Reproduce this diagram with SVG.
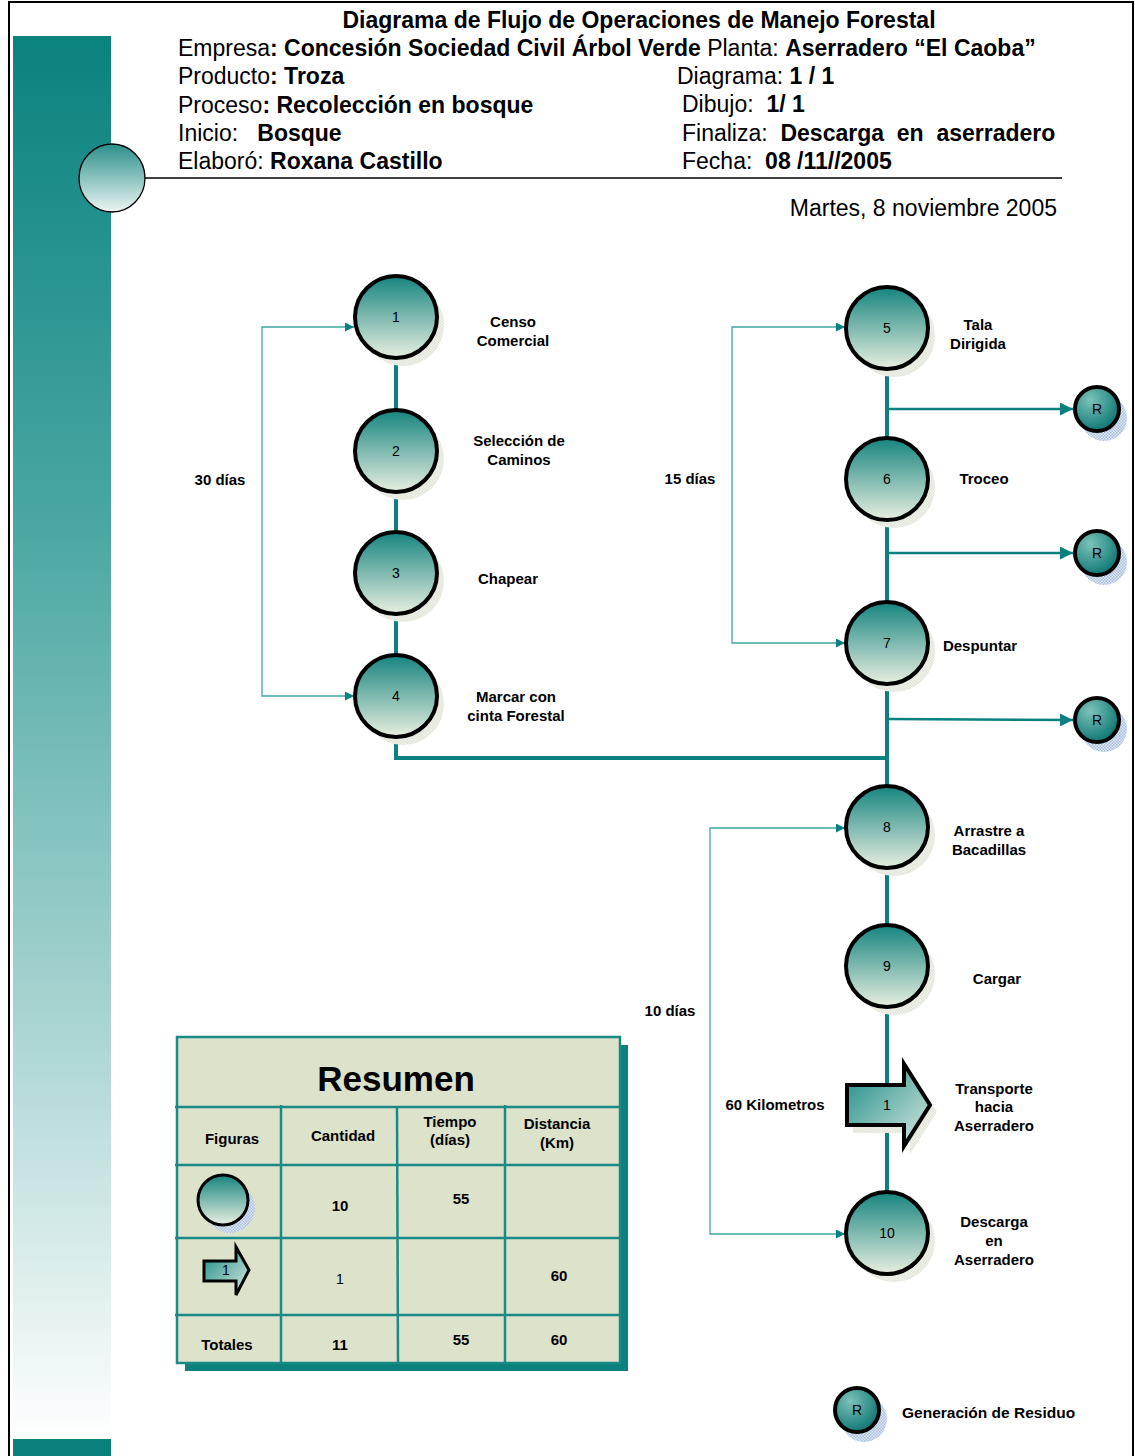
<svg xmlns="http://www.w3.org/2000/svg" width="1135" height="1456" viewBox="0 0 1135 1456">
<style>
text{font-family:"Liberation Sans",Arial,sans-serif;fill:#000}
.h{font-size:23px}
.b{font-weight:bold}
.lbl{font-size:15px;font-weight:bold;text-anchor:middle}
.num{font-size:14px;text-anchor:middle}
.node{stroke:#000;stroke-width:4;fill:url(#gNode)}
.rnode{stroke:#000;stroke-width:4;fill:url(#gR)}
.sh{fill:url(#chk)}
.shr{fill:url(#chkB)}
.thick{stroke:#0a8080;stroke-width:4;fill:none}
.rl{stroke:#0a8080;stroke-width:2.5;fill:none}
.thin{stroke:#3fa6a3;stroke-width:1.3;fill:none}
.tl{stroke:#1a8a86;stroke-width:2.5}
.tc{font-size:15px;font-weight:bold;text-anchor:middle}
</style>
<defs>
<linearGradient id="gNode" x1="0" y1="0" x2="0" y2="1">
<stop offset="0" stop-color="#15847f"/>
<stop offset="1" stop-color="#e8efe0"/>
</linearGradient>
<radialGradient id="gR" cx="0.35" cy="0.3" r="0.75">
<stop offset="0" stop-color="#7cc2bb"/>
<stop offset="1" stop-color="#0a7470"/>
</radialGradient>
<linearGradient id="gArrow" x1="0" y1="0" x2="1" y2="1">
<stop offset="0" stop-color="#1b8a85"/>
<stop offset="1" stop-color="#d9ebe2"/>
</linearGradient>
<linearGradient id="gBar" x1="0" y1="0" x2="0" y2="1">
<stop offset="0" stop-color="#0a827e"/>
<stop offset="0.35" stop-color="#4ba7a3"/>
<stop offset="0.7" stop-color="#a8d4d1"/>
<stop offset="1" stop-color="#ffffff"/>
</linearGradient>
<linearGradient id="gHead" x1="0" y1="0" x2="0" y2="1">
<stop offset="0" stop-color="#2a908b"/>
<stop offset="1" stop-color="#eef5f3"/>
</linearGradient>
<pattern id="chk" width="3" height="3" patternUnits="userSpaceOnUse">
<rect width="3" height="3" fill="#f1f3ec"/>
<rect width="1.5" height="1.5" fill="#dfe4d6"/>
<rect x="1.5" y="1.5" width="1.5" height="1.5" fill="#dfe4d6"/>
</pattern>
<pattern id="chkB" width="3" height="3" patternUnits="userSpaceOnUse">
<rect width="3" height="3" fill="#dfe7f3"/>
<rect width="1.5" height="1.5" fill="#a9bfe0"/>
<rect x="1.5" y="1.5" width="1.5" height="1.5" fill="#a9bfe0"/>
</pattern>
<marker id="aThin" viewBox="0 0 10 10" refX="10" refY="5" markerWidth="9" markerHeight="9" markerUnits="userSpaceOnUse" orient="auto-start-reverse">
<path d="M0,0 L10,5 L0,10 z" fill="#0a8080"/>
</marker>
<marker id="aR" viewBox="0 0 10 10" refX="10" refY="5" markerWidth="13" markerHeight="13" markerUnits="userSpaceOnUse" orient="auto">
<path d="M0,0 L10,5 L0,10 z" fill="#0a8080"/>
</marker>
</defs>

<rect x="0" y="0" width="1135" height="1456" fill="#fff"/>
<path d="M9,1456 V2 H1133 V1456" fill="none" stroke="#000" stroke-width="2"/>

<g id="sidebar">
<rect x="13" y="36" width="98" height="1403" fill="url(#gBar)"/>
<rect x="13" y="1439" width="98" height="17" fill="#0a817d"/>
</g>

<g id="header">
<ellipse cx="112" cy="178" rx="33" ry="34" fill="url(#gHead)" stroke="#000" stroke-width="1.3"/>
<line x1="145" y1="178" x2="1062" y2="178" stroke="#000" stroke-width="1.3"/>
<text x="639" y="28" class="h b" text-anchor="middle">Diagrama de Flujo de Operaciones de Manejo Forestal</text>
<text x="178" y="56" class="h">Empresa<tspan class="b">: Concesión Sociedad Civil Árbol Verde</tspan> Planta: <tspan class="b">Aserradero “El Caoba”</tspan></text>
<text x="178" y="84" class="h">Producto<tspan class="b">: Troza</tspan></text>
<text x="178" y="113" class="h">Proceso<tspan class="b">: Recolección en bosque</tspan></text>
<text x="178" y="141" class="h" xml:space="preserve">Inicio:   <tspan class="b">Bosque</tspan></text>
<text x="178" y="169" class="h">Elaboró: <tspan class="b">Roxana Castillo</tspan></text>
<text x="677" y="84" class="h">Diagrama: <tspan class="b">1 / 1</tspan></text>
<text x="682" y="112" class="h" xml:space="preserve">Dibujo:  <tspan class="b">1/ 1</tspan></text>
<text x="682" y="141" class="h" xml:space="preserve">Finaliza:  <tspan class="b">Descarga  en  aserradero</tspan></text>
<text x="682" y="169" class="h" xml:space="preserve">Fecha:  <tspan class="b">08 /11//2005</tspan></text>
<text x="1057" y="216" class="h" text-anchor="end">Martes, 8 noviembre 2005</text>
</g>

<g id="connectors">
<line x1="396" y1="360" x2="396" y2="410" class="thick"/>
<line x1="396" y1="493" x2="396" y2="532" class="thick"/>
<line x1="396" y1="615" x2="396" y2="655" class="thick"/>
<polyline points="396,738 396,758 887,758" class="thick"/>
<line x1="887" y1="370" x2="887" y2="1192" class="thick"/>
<line x1="887" y1="409" x2="1073" y2="409" class="rl" marker-end="url(#aR)"/>
<line x1="887" y1="553" x2="1073" y2="553" class="rl" marker-end="url(#aR)"/>
<line x1="887" y1="719" x2="1073" y2="720" class="rl" marker-end="url(#aR)"/>
<polyline points="354,327 262,327 262,696 354,696" class="thin" marker-start="url(#aThin)" marker-end="url(#aThin)"/>
<polyline points="845,327 732,327 732,643 845,643" class="thin" marker-start="url(#aThin)" marker-end="url(#aThin)"/>
<polyline points="845,828 710,828 710,1234 845,1234" class="thin" marker-start="url(#aThin)" marker-end="url(#aThin)"/>
<text x="220" y="485" class="lbl">30 días</text>
<text x="690" y="484" class="lbl">15 días</text>
<text x="670" y="1016" class="lbl">10 días</text>
<text x="775" y="1110" class="lbl">60 Kilometros</text>
</g>

<g id="n1"><circle cx="403" cy="325" r="41" class="sh"/><circle cx="396" cy="317" r="41" class="node"/><text x="396" y="322" class="num">1</text><text x="513" y="327" class="lbl">Censo</text><text x="513" y="346" class="lbl">Comercial</text></g>
<g id="n2"><circle cx="403" cy="459" r="41" class="sh"/><circle cx="396" cy="451" r="41" class="node"/><text x="396" y="456" class="num">2</text><text x="519" y="446" class="lbl">Selección de</text><text x="519" y="465" class="lbl">Caminos</text></g>
<g id="n3"><circle cx="403" cy="581" r="41" class="sh"/><circle cx="396" cy="573" r="41" class="node"/><text x="396" y="578" class="num">3</text><text x="508" y="584" class="lbl">Chapear</text></g>
<g id="n4"><circle cx="403" cy="704" r="41" class="sh"/><circle cx="396" cy="696" r="41" class="node"/><text x="396" y="701" class="num">4</text><text x="516" y="702" class="lbl">Marcar con</text><text x="516" y="721" class="lbl">cinta Forestal</text></g>
<g id="n5"><circle cx="894" cy="336" r="41" class="sh"/><circle cx="887" cy="328" r="41" class="node"/><text x="887" y="333" class="num">5</text><text x="978" y="330" class="lbl">Tala</text><text x="978" y="349" class="lbl">Dirigida</text></g>
<g id="n6"><circle cx="894" cy="487" r="41" class="sh"/><circle cx="887" cy="479" r="41" class="node"/><text x="887" y="484" class="num">6</text><text x="984" y="484" class="lbl">Troceo</text></g>
<g id="n7"><circle cx="894" cy="651" r="41" class="sh"/><circle cx="887" cy="643" r="41" class="node"/><text x="887" y="648" class="num">7</text><text x="980" y="651" class="lbl">Despuntar</text></g>
<g id="n8"><circle cx="894" cy="835" r="41" class="sh"/><circle cx="887" cy="827" r="41" class="node"/><text x="887" y="832" class="num">8</text><text x="989" y="836" class="lbl">Arrastre a</text><text x="989" y="855" class="lbl">Bacadillas</text></g>
<g id="n9"><circle cx="894" cy="974" r="41" class="sh"/><circle cx="887" cy="966" r="41" class="node"/><text x="887" y="971" class="num">9</text><text x="997" y="984" class="lbl">Cargar</text></g>
<g id="t1">
<path d="M853,1092 H910 V1071 L937,1112 L910,1154 V1133 H853 Z" class="sh"/>
<path d="M847,1085 H904 V1064 L930,1105 L904,1146 V1125 H847 Z" fill="url(#gArrow)" stroke="#000" stroke-width="4" stroke-linejoin="miter"/>
<text x="887" y="1110" class="num">1</text>
<text x="994" y="1094" class="lbl">Transporte</text><text x="994" y="1112" class="lbl">hacia</text><text x="994" y="1131" class="lbl">Aserradero</text>
</g>
<g id="n10"><circle cx="894" cy="1241" r="41" class="sh"/><circle cx="887" cy="1233" r="41" class="node"/><text x="887" y="1238" class="num">10</text><text x="994" y="1227" class="lbl">Descarga</text><text x="994" y="1246" class="lbl">en</text><text x="994" y="1265" class="lbl">Aserradero</text></g>

<g id="r1"><circle cx="1104" cy="418" r="23" class="shr"/><circle cx="1097" cy="409" r="22" class="rnode"/><text x="1097" y="414" class="num">R</text></g>
<g id="r2"><circle cx="1104" cy="562" r="23" class="shr"/><circle cx="1097" cy="553" r="22" class="rnode"/><text x="1097" y="558" class="num">R</text></g>
<g id="r3"><circle cx="1104" cy="729" r="23" class="shr"/><circle cx="1097" cy="720" r="22" class="rnode"/><text x="1097" y="725" class="num">R</text></g>

<g id="legend"><circle cx="864" cy="1419" r="23" class="shr"/><circle cx="857" cy="1410" r="22" class="rnode"/><text x="857" y="1415" class="num">R</text><text x="902" y="1418" style="font-size:15.5px;font-weight:bold">Generación de Residuo</text></g>

<g id="resumen">
<rect x="185" y="1045" width="443" height="326" fill="#0a817d"/>
<rect x="177" y="1037" width="443" height="326" fill="#dde2cb" stroke="#1a8a86" stroke-width="2.5"/>
<line x1="175" y1="1107" x2="620" y2="1107" class="tl"/>
<line x1="175" y1="1165" x2="620" y2="1165" class="tl"/>
<line x1="175" y1="1238" x2="620" y2="1238" class="tl"/>
<line x1="175" y1="1315" x2="620" y2="1315" class="tl"/>
<line x1="281" y1="1105" x2="281" y2="1363" class="tl"/>
<line x1="397" y1="1107" x2="398" y2="1363" class="tl"/>
<line x1="505" y1="1105" x2="505" y2="1363" class="tl"/>
<text x="396" y="1091" style="font-size:35px;font-weight:bold;text-anchor:middle">Resumen</text>
<text x="232" y="1144" class="tc">Figuras</text>
<text x="343" y="1141" class="tc">Cantidad</text>
<text x="450" y="1127" class="tc">Tiempo</text>
<text x="450" y="1145" class="tc">(días)</text>
<text x="557" y="1129" class="tc">Distancia</text>
<text x="557" y="1148" class="tc">(Km)</text>
<circle cx="230" cy="1208" r="25" class="shr"/>
<circle cx="223" cy="1200" r="25" fill="url(#gNode)" stroke="#000" stroke-width="3"/>
<path d="M204,1261 H236 V1247 L249,1270 L236,1295 V1281 H204 Z" fill="url(#gArrow)" stroke="#000" stroke-width="3"/>
<text x="226" y="1275" style="font-size:14px;text-anchor:middle">1</text>
<text x="340" y="1211" class="tc">10</text>
<text x="461" y="1204" class="tc">55</text>
<text x="340" y="1284" style="font-size:14px;text-anchor:middle">1</text>
<text x="559" y="1281" class="tc">60</text>
<text x="227" y="1350" class="tc">Totales</text>
<text x="340" y="1350" class="tc">11</text>
<text x="461" y="1345" class="tc">55</text>
<text x="559" y="1345" class="tc">60</text>
</g>
</svg>
